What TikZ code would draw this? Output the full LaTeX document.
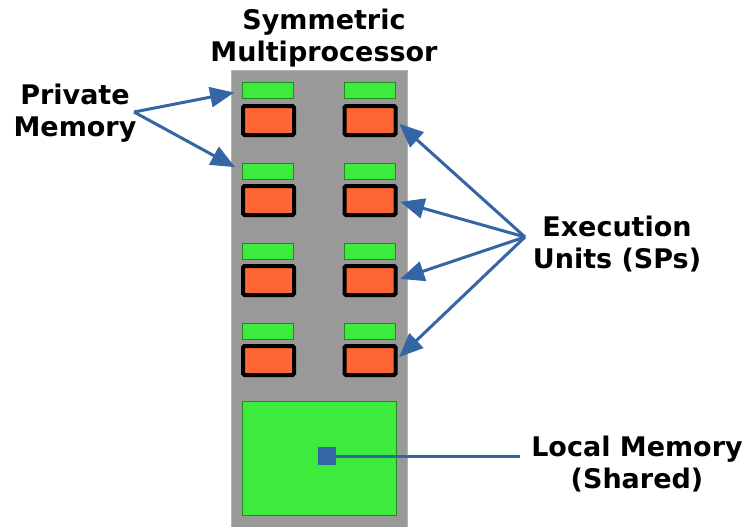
\documentclass[tikz,border=0pt]{standalone}
\usepackage{fontspec}
\setmainfont{DejaVu Sans}
\usetikzlibrary{arrows.meta}
\definecolor{smpgray}{HTML}{999999}
\definecolor{smpedge}{HTML}{B4B4B4}
\definecolor{memgreen}{HTML}{3DEB3D}
\definecolor{memedge}{HTML}{1E8C1E}
\definecolor{spfill}{HTML}{FF6633}
\definecolor{linkblue}{HTML}{3465A4}
\begin{document}
\begin{tikzpicture}[x=1pt,y=-1pt,
  smpbox/.style={rectangle,fill=smpgray,draw=smpedge,line width=1pt,inner sep=0pt,outer sep=0pt,minimum width=176pt,minimum height=456pt},
  pmem/.style={rectangle,fill=memgreen,draw=memedge,line width=1pt,inner sep=0pt,outer sep=0pt,minimum width=51pt,minimum height=16pt},
  spunit/.style={rectangle,fill=spfill,draw=black,line width=4pt,rounded corners=1.5pt,inner sep=0pt,outer sep=0pt,minimum width=51pt,minimum height=29pt},
  lmem/.style={rectangle,fill=memgreen,draw=memedge,line width=1pt,inner sep=0pt,outer sep=0pt,minimum width=154pt,minimum height=114pt},
  port/.style={rectangle,fill=linkblue,inner sep=0pt,outer sep=0pt,minimum size=18pt},
  lbl/.style={font=\fontsize{27}{32}\selectfont\bfseries,align=center,inner sep=2pt},
  arr/.style={draw=linkblue,line width=3pt,-{Triangle[length=24pt,width=20pt]}},
  link/.style={draw=linkblue,line width=3pt}]
\useasboundingbox (0,0) rectangle (742,527);

% multiprocessor body
\node[smpbox] (smp) at (319,299) {};

% private memories and execution units, four rows of two
\foreach \r in {1,2,3,4}{
  \node[pmem] (pmL\r) at (267.5,{91+80*(\r-1)}) {};
  \node[pmem] (pmR\r) at (370,{91+80*(\r-1)}) {};
  \node[spunit] (spL\r) at (268.5,{120.5+80*(\r-1)}) {};
  \node[spunit] (spR\r) at (370,{120.5+80*(\r-1)}) {};
}

% shared local memory
\node[lmem] (lm) at (319,458) {};
\node[port] (lmport) at (327,456) {};

% labels
\node[lbl] (smplabel) at (324,38) {Symmetric\\Multiprocessor};
\node[lbl] (pmlabel) at (75,113) {Private\\Memory};
\node[lbl] (eulabel) at (617,244) {Execution\\Units (SPs)};
\node[lbl] (lmlabel) at (637,464) {Local Memory\\(Shared)};

% connectors
\coordinate (pmfork) at (134,112);
\coordinate (eufork) at (525,237);
\coordinate (lmend) at (520,456);
\draw[arr,shorten >=8pt] (pmfork) -- (pmL1.west);
\draw[arr,shorten >=8pt] (pmfork) -- (pmL2.west);
\foreach \r in {1,2,3,4}{
  \draw[arr,shorten >=5pt] (eufork) -- (spR\r.east);
}
\draw[link] (lmport.east) -- (lmend);
\end{tikzpicture}
\end{document}
